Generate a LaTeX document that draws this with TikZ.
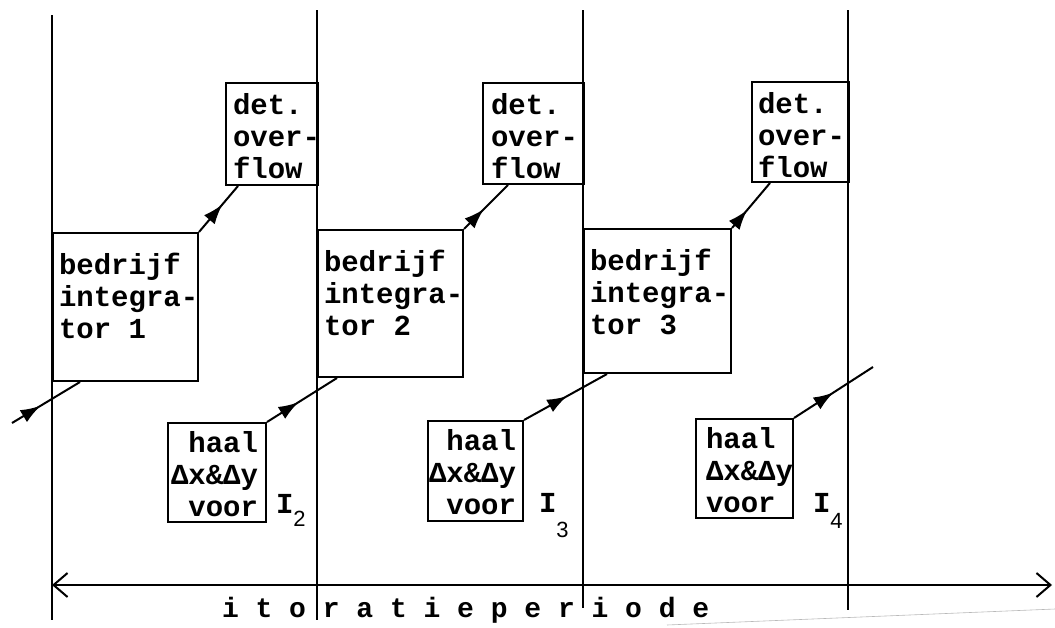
\documentclass[tikz,border=0pt]{standalone}
\usepackage{fontspec}
\newfontfamily\twfont{Liberation Mono}
\newfontfamily\hwfont{Liberation Sans}
\usetikzlibrary{arrows.meta,decorations.markings,calc}
\begin{document}
\begin{tikzpicture}[x=1pt,y=-1pt,line width=2pt,
  box/.style={draw, rectangle, inner sep=0pt, anchor=north west},
  txt/.style={inner sep=0pt, anchor=north west, align=left, font=\twfont\bfseries\fontsize{29}{32}\selectfont},
  lbl/.style={inner sep=0pt, anchor=base west, font=\twfont\bfseries\fontsize{29}{32}\selectfont},
  midarr/.style={postaction={decorate,decoration={markings,mark=at position #1 with {\arrow{Latex[length=20pt,width=14pt]}}}}},
  barb/.tip={Straight Barb[length=14pt,width=24pt,line width=2pt]}
]
\useasboundingbox (0,0) rectangle (1055,627);

% vertical period lines
\coordinate (v1t) at (52,15);  \coordinate (v1b) at (52,620);
\coordinate (v2t) at (317,10); \coordinate (v2b) at (317,620);
\coordinate (v3t) at (583,10); \coordinate (v3b) at (583,608);
\coordinate (v4t) at (848,10); \coordinate (v4b) at (848,610);
\draw (v1t) -- (v1b);
\draw (v2t) -- (v2b);
\draw (v3t) -- (v3b);
\draw (v4t) -- (v4b);

% boxes
\node[box, minimum width=92pt,  minimum height=102pt] (d1) at (225,82) {};
\node[box, minimum width=101pt, minimum height=101pt] (d2) at (482,82) {};
\node[box, minimum width=97pt,  minimum height=100pt] (d3) at (751,81) {};
\node[box, minimum width=145pt, minimum height=148pt] (b1) at (52,232) {};
\node[box, minimum width=145pt, minimum height=147pt] (b2) at (317,229) {};
\node[box, minimum width=147pt, minimum height=144pt] (b3) at (583,228) {};
\node[box, minimum width=98pt,  minimum height=99pt]  (h1) at (167,422) {};
\node[box, minimum width=95pt,  minimum height=100pt] (h2) at (427,420) {};
\node[box, minimum width=97pt,  minimum height=99pt]  (h3) at (695,418) {};

% texts
\node[txt] (td1) at (232,92) {det.\\over-\\flow};
\node[txt] (td2) at (490,92) {det.\\over-\\flow};
\node[txt] (td3) at (757,91) {det.\\over-\\flow};
\node[txt] (tb1) at (58,252) {bedrijf\\integra-\\tor 1};
\node[txt] (tb2) at (323,249) {bedrijf\\integra-\\tor 2};
\node[txt] (tb3) at (589,248) {bedrijf\\integra-\\tor 3};
\node[txt] (th1) at (170,430) {\ haal\\Δx\&Δy\\\ voor};
\node[txt] (th2) at (428,428) {\ haal\\Δx\&Δy\\\ voor};
\node[txt] (th3) at (705,426) {haal\\Δx\&Δy\\voor};

\node[lbl] (i2) at (275,513) {I\raisebox{-13pt}{\hwfont\mdseries\fontsize{22}{22}\selectfont 2}};
\node[lbl] (i3) at (538,512) {I\raisebox{-25pt}{\hwfont\mdseries\fontsize{22}{22}\selectfont 3}};
\node[lbl] (i4) at (812,512) {I\raisebox{-16pt}{\hwfont\mdseries\fontsize{22}{22}\selectfont 4}};

% flow connectors
\coordinate (in1) at (12,423);
\coordinate (out3) at (873,367);
\draw[midarr=0.42] (in1) -- ($(b1.south west)+(28,0)$);
\draw[midarr=0.6]  (b1.north east) -- ($(d1.south west)+(13,0)$);
\draw[midarr=0.45] (h1.north east) -- ($(b2.south west)+(20,0)$);
\draw[midarr=0.45] (b2.north east) -- ($(d2.south west)+(26,0)$);
\draw[midarr=0.52] (h2.north east) -- ($(b3.south west)+(24,0)$);
\draw[midarr=0.4]  (b3.north east) -- ($(d3.south west)+(19,0)$);
\draw[midarr=0.5]  (h3.north east) -- (out3);

% iteration period
\coordinate (pl) at (52,585);
\coordinate (pr) at (1052,585);
\draw[barb-barb] (pl) -- (pr);
\node[lbl, font=\twfont\bfseries\fontsize{28}{32}\selectfont] (per) at (221,617) {i t o r a t i e p e r i o d e};

% faint stray line
\coordinate (f1) at (667,625);
\coordinate (f2) at (1055,609);
\draw[gray!55, line width=0.6pt] (f1) -- (f2);
\end{tikzpicture}
\end{document}
